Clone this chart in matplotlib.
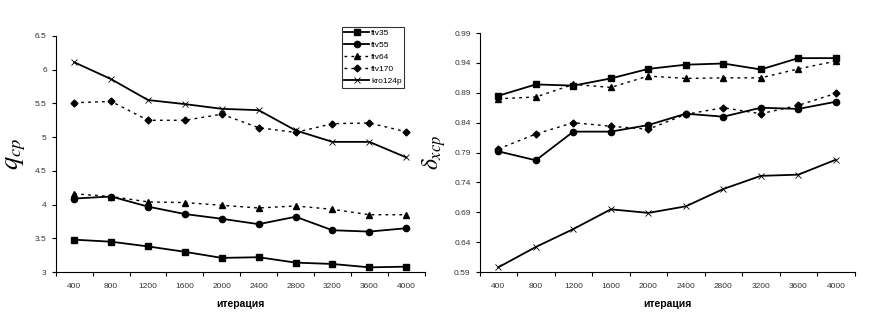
import numpy as np
import matplotlib.pyplot as plt

plt.rcParams['font.family'] = ['Liberation Sans', 'DejaVu Sans']
plt.rcParams['mathtext.fontset'] = 'stix'

# данные
iterations = ['400', '800', '1200', '1600', '2000', '2400', '2800', '3200', '3600', '4000']

q_ftv35 = [3.48, 3.45, 3.38, 3.30, 3.21, 3.22, 3.14, 3.12, 3.07, 3.08]
q_ftv55 = [4.09, 4.12, 3.97, 3.86, 3.79, 3.71, 3.82, 3.62, 3.60, 3.65]
q_ftv64 = [4.16, 4.12, 4.04, 4.03, 3.99, 3.95, 3.98, 3.93, 3.85, 3.85]
q_ftv170 = [5.51, 5.53, 5.25, 5.25, 5.34, 5.14, 5.07, 5.20, 5.21, 5.08]
q_kro124p = [6.11, 5.86, 5.55, 5.49, 5.42, 5.40, 5.10, 4.93, 4.93, 4.70]

d_ftv35 = [0.885, 0.904, 0.902, 0.914, 0.930, 0.937, 0.939, 0.929, 0.948, 0.948]
d_ftv55 = [0.792, 0.777, 0.825, 0.825, 0.836, 0.855, 0.850, 0.865, 0.863, 0.875]
d_ftv64 = [0.880, 0.883, 0.904, 0.899, 0.918, 0.914, 0.915, 0.915, 0.930, 0.943]
d_ftv170 = [0.796, 0.821, 0.840, 0.834, 0.829, 0.854, 0.865, 0.855, 0.869, 0.889]
d_kro124p = [0.598, 0.632, 0.662, 0.695, 0.689, 0.700, 0.729, 0.751, 0.753, 0.778]

names = ['ftv35', 'ftv55', 'ftv64', 'ftv170', 'kro124p']
styles = [
    dict(ls='-', marker='s', ms=4.5, lw=1.3),
    dict(ls='-', marker='o', ms=4.5, lw=1.3),
    dict(ls=(0, (2, 3)), marker='^', ms=4, lw=1.0),
    dict(ls=(0, (2, 3)), marker='D', ms=3.5, lw=1.0),
    dict(ls='-', marker='x', ms=4, lw=1.3, mew=0.6),
]

x = np.arange(len(iterations))
fig = plt.figure(figsize=(8.72, 3.27), dpi=100)
ax1 = fig.add_axes([0.064, 0.168, 0.423, 0.722])
ax2 = fig.add_axes([0.550, 0.168, 0.430, 0.731])


def style_axis(ax, ylim, yticks, fmt):
    ax.set_xlim(-0.5, len(iterations) - 0.5)
    ax.set_ylim(*ylim)
    ax.set_yticks(yticks)
    ax.set_yticklabels([fmt(v) for v in yticks])
    ax.set_xticks(x)
    ax.set_xticklabels(iterations)
    ax.set_xticks(np.arange(-0.5, len(iterations)), minor=True)
    ax.tick_params(axis='x', which='major', length=0, pad=8)
    ax.tick_params(axis='x', which='minor', length=3, width=0.8)
    ax.tick_params(axis='y', length=3, width=0.8)
    ax.tick_params(labelsize=6, labelcolor='#333333')
    for s in ['top', 'right']:
        ax.spines[s].set_visible(False)
    for s in ['left', 'bottom']:
        ax.spines[s].set_linewidth(0.8)
    ax.set_xlabel('итерация', fontsize=7.5, fontweight='bold', labelpad=6)


for data, name, st in zip([q_ftv35, q_ftv55, q_ftv64, q_ftv170, q_kro124p], names, styles):
    ax1.plot(x, data, color='black', label=name, **st)
style_axis(ax1, (3, 6.5), [3, 3.5, 4, 4.5, 5, 5.5, 6, 6.5], lambda v: f'{v:g}')
ax1.set_ylabel(r'$q_{cp}$', fontsize=19)
ax1.yaxis.set_label_coords(-0.075, 0.5)

for data, name, st in zip([d_ftv35, d_ftv55, d_ftv64, d_ftv170, d_kro124p], names, styles):
    ax2.plot(x, data, color='black', label=name, **st)
style_axis(ax2, (0.59, 0.99), np.round(np.arange(0.59, 0.991, 0.05), 2), lambda v: f'{v:.2f}')
ax2.set_ylabel(r'$\delta_{xcp}$', fontsize=17)
ax2.yaxis.set_label_coords(-0.085, 0.5)

leg = ax1.legend(loc='upper right', bbox_to_anchor=(404 / 872, 300 / 327),
                 bbox_transform=fig.transFigure, fontsize=6, frameon=True,
                 fancybox=False, edgecolor='black', handlelength=3,
                 borderpad=0.3, labelspacing=0.5, handletextpad=0.2,
                 borderaxespad=0)
leg.get_frame().set_linewidth(0.8)

fig.savefig('out.png', dpi=100)
